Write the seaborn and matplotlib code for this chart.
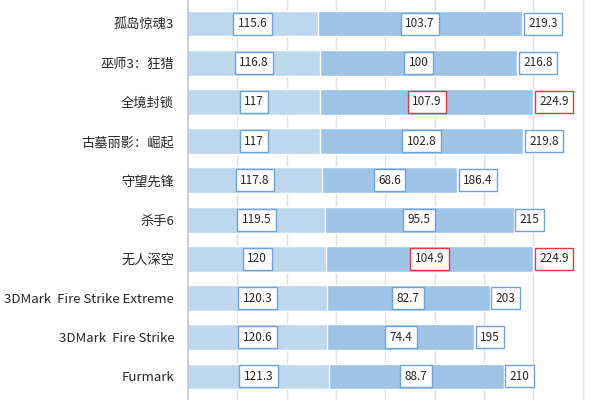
import matplotlib
matplotlib.use("Agg")
import matplotlib.pyplot as plt
import seaborn as sns
import pandas as pd

# ── 資料 ──────────────────────────────────────────────────────────────────────
games = ["孤岛惊魂3", "巫师3：狂猎", "全境封锁", "古墓丽影：崛起", "守望先锋",
         "杀手6", "无人深空", "3DMark  Fire Strike Extreme", "3DMark  Fire Strike", "Furmark"]
part_a = [115.6, 116.8, 117, 117, 117.8, 119.5, 120, 120.3, 120.6, 121.3]
part_b = [103.7, 100, 107.9, 102.8, 68.6, 95.5, 104.9, 82.7, 74.4, 88.7]
totals = [219.3, 216.8, 224.9, 219.8, 186.4, 215, 224.9, 203, 195, 210]
part_b_labels = ["103.7", "100", "107.9", "102.8", "68.6", "95.5", "104.9", "82.7", "74.4", "88.7"]
part_a_labels = ["115.6", "116.8", "117", "117", "117.8", "119.5", "120", "120.3", "120.6", "121.3"]
total_labels = ["219.3", "216.8", "224.9", "219.8", "186.4", "215", "224.9", "203", "195", "210"]

sns.set_theme(style="white")
plt.rcParams["font.family"] = ["Noto Sans CJK SC", "DejaVu Sans"]

LIGHT = "#bdd7ee"
MID = "#9dc3e6"
BOX_BLUE = "#6fa3d8"
BOX_RED = "#e8353a"
X_MIN = 50

df = pd.DataFrame({"game": games, "a": part_a, "b": part_b, "total": totals})

fig = plt.figure(figsize=(6, 4), dpi=100)
ax = fig.add_axes([188 / 600, 0, 412 / 600, 1])

sns.barplot(data=df, y="game", x="total", orient="h", color=MID, saturation=1,
            width=0.66, ax=ax, zorder=2)
sns.barplot(data=df, y="game", x="a", orient="h", color=LIGHT, saturation=1,
            width=0.66, ax=ax, zorder=3)

ax.set_xlim(X_MIN, 258.7)
ax.set_ylim(9.6, -0.6)
ax.set_xticks(range(75, 260, 25))
ax.xaxis.grid(True, color="#e0e0e0", linewidth=1, zorder=0)
ax.tick_params(axis="x", labelbottom=False, length=0)
ax.tick_params(axis="y", length=0, pad=10, labelsize=9.5, labelcolor="#262626")
ax.set_xlabel("")
ax.set_ylabel("")
for s in ["top", "right", "bottom"]:
    ax.spines[s].set_visible(False)
ax.spines["left"].set_color("#c8c8c8")
ax.spines["left"].set_linewidth(1.2)
ax.spines["left"].set_zorder(5)


def box(x, y, txt, ec, ha="center"):
    ax.text(x, y, txt, ha=ha, va="center", fontsize=8.5, color="#262626", zorder=6,
            bbox=dict(boxstyle="square,pad=0.38", fc="white", ec=ec, lw=1))


for i in range(len(games)):
    a, b, t = part_a[i], part_b[i], totals[i]
    red = t == max(totals)
    box((X_MIN + a) / 2, i, part_a_labels[i], BOX_BLUE)
    box(a + b / 2, i, part_b_labels[i], BOX_RED if red else BOX_BLUE)
    box(t + 3.0, i, total_labels[i], BOX_RED if red else BOX_BLUE, ha="left")

fig.savefig("out.png", dpi=100)
